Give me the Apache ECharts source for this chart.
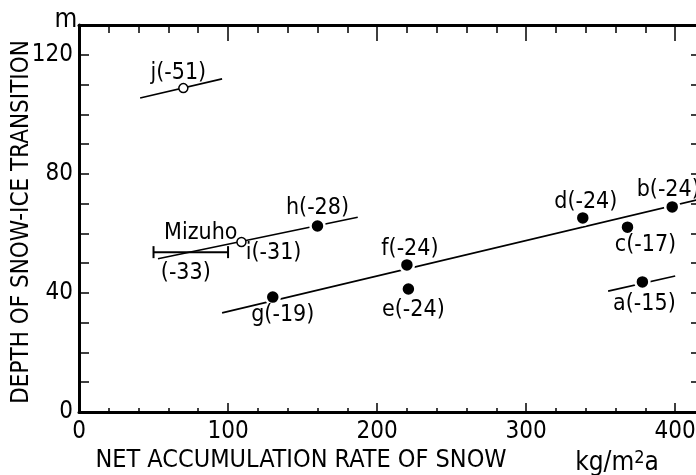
<!DOCTYPE html>
<html>
<head>
<meta charset="utf-8">
<script src="https://cdn.jsdelivr.net/npm/echarts@6/dist/echarts.min.js"></script>
<style>
html,body{margin:0;padding:0;background:#fff}
#chartBox{width:696px;height:475px}
</style>
</head>
<body>
<div id="chartBox"></div>
<script>
// stations: name (mean annual temp), accumulation rate kg/m2a, depth m
var filledNames = ['a(-15)', 'b(-24)', 'c(-17)', 'd(-24)', 'e(-24)', 'f(-24)', 'g(-19)', 'h(-28)'];
var filledX = [378, 398, 368, 338, 221, 220, 130, 160];
var filledY = [43.7, 68.9, 62.1, 65.2, 41.3, 49.4, 38.6, 62.5];

var openNames = ['j(-51)', 'i(-31)'];
var openX = [70, 109];
var openY = [108.8, 57.1];

// Mizuho range
var mizuhoX = [50, 100];
var mizuhoY = [53.7, 53.7];
var mizuhoText = ['Mizuho', '(-33)'];

// trend lines, x ends and y ends
var mainLineX = [96, 420];
var mainLineY = [33.3, 71.9];
var jLineX = [41, 96];
var jLineY = [105.5, 111.9];
var ihLineX = [53, 187];
var ihLineY = [51.5, 65.4];
var aLineX = [355, 400];
var aLineY = [40.6, 45.7];

var xTicks = [0, 100, 200, 300, 400];
var yTicks = [0, 40, 80, 120];

var FONT = "'Liberation Sans Narrow', 'DejaVu Sans Condensed', sans-serif";

function pairs(xs, ys) {
    return xs.map(function (x, i) { return [x, ys[i]]; });
}

var labelPlace = {
    'a(-15)': { position: 'bottom', offset: [2, -2] },
    'b(-24)': { position: 'top', offset: [-4, 7] },
    'c(-17)': { position: 'bottom', offset: [18, -6] },
    'd(-24)': { position: 'top', offset: [3, 8] },
    'e(-24)': { position: 'bottom', offset: [5, -3] },
    'f(-24)': { position: 'top', offset: [3, 8] },
    'g(-19)': { position: 'bottom', offset: [10, -6] },
    'h(-28)': { position: 'top', offset: [0, 6] },
    'j(-51)': { position: 'top', offset: [-5, 6] },
    'i(-31)': { position: 'right', offset: [-5, 11] },
    'Mizuho': { position: 'inside', offset: [10, -19] },
    '(-33)': { position: 'inside', offset: [-5, 21] }
};

function pointData(names, xs, ys) {
    return names.map(function (n, i) {
        return { name: n, value: [xs[i], ys[i]], label: labelPlace[n] };
    });
}

function segment(xs, ys) {
    return {
        type: 'line',
        data: pairs(xs, ys),
        showSymbol: false,
        silent: true,
        z: 1,
        lineStyle: { color: '#000', width: 1.6 }
    };
}

var lineWidth = 3;
function axisBase(extra) {
    var base = {
        type: 'value',
        splitLine: { show: false },
        axisLine: { show: true, onZero: false, lineStyle: { color: '#000', width: lineWidth } },
        axisTick: { show: true, inside: true, lineStyle: { color: '#000', width: 1.5 } },
        axisLabel: { color: '#000', fontFamily: FONT, fontSize: 24 }
    };
    return echarts.util.merge(base, extra, true);
}

var myChart = echarts.init(document.getElementById('chartBox'));
myChart.setOption({
    animation: false,
    backgroundColor: '#fff',
    grid: { left: 79, right: -9, top: 25, bottom: 63, outerBoundsMode: 'none', containLabel: false },
    xAxis: [
        axisBase({
            position: 'bottom', min: 0, max: 420, interval: 100,
            axisTick: { length: 9 },
            minorTick: { show: true, splitNumber: 5, length: 4, lineStyle: { color: '#000', width: 1.5 } },
            axisLabel: {
                margin: 8,
                formatter: function (v) { return xTicks.indexOf(v) >= 0 ? String(v) : ''; }
            }
        }),
        axisBase({
            position: 'top', min: 0, max: 420, interval: 100,
            axisTick: { length: 16 },
            minorTick: { show: true, splitNumber: 5, length: 8, lineStyle: { color: '#000', width: 1.5 } },
            axisLabel: { show: false }
        })
    ],
    yAxis: [
        axisBase({
            position: 'left', min: 0, max: 130, interval: 10,
            axisTick: { length: 10 },
            axisLabel: {
                margin: 6,
                formatter: function (v) { return yTicks.indexOf(v) >= 0 ? String(v) : ''; }
            }
        }),
        axisBase({
            position: 'right', min: 0, max: 130, interval: 10,
            axisTick: { length: 14 },
            axisLabel: { show: false }
        })
    ],
    graphic: [
        {
            type: 'text', x: 22, y: 222, rotation: Math.PI / 2,
            style: { text: 'DEPTH OF SNOW-ICE TRANSITION', font: '24px ' + FONT, fill: '#000', align: 'center', verticalAlign: 'middle' }
        },
        {
            type: 'text', x: 66, y: 20,
            style: { text: 'm', font: '26px ' + FONT, fill: '#000', align: 'center', verticalAlign: 'middle' }
        },
        {
            type: 'text', x: 301, y: 460,
            style: { text: 'NET ACCUMULATION RATE OF SNOW', font: '25px ' + FONT, fill: '#000', align: 'center', verticalAlign: 'middle' }
        },
        {
            type: 'text', x: 617, y: 463,
            style: {
                text: 'kg/m{sup|2}a', font: '26px ' + FONT, fill: '#000', align: 'center', verticalAlign: 'middle',
                rich: { sup: { fontSize: 18, fontFamily: FONT, padding: [0, 0, 10, 0] } }
            }
        }
    ],
    series: [
        segment(mainLineX, mainLineY),
        segment(jLineX, jLineY),
        segment(ihLineX, ihLineY),
        segment(aLineX, aLineY),
        {
            type: 'line',
            data: pairs(mizuhoX, mizuhoY),
            symbol: 'rect',
            symbolSize: [2, 12],
            showSymbol: true,
            silent: true,
            z: 1,
            itemStyle: { color: '#000' },
            lineStyle: { color: '#000', width: 2 }
        },
        {
            type: 'scatter',
            data: pointData(filledNames, filledX, filledY),
            symbolSize: 14,
            z: 3,
            itemStyle: { color: '#000', borderColor: '#fff', borderWidth: 2.5, opacity: 1 },
            label: {
                show: true, formatter: '{b}', color: '#000', fontFamily: FONT, fontSize: 23, distance: 4
            }
        },
        {
            type: 'scatter',
            data: pointData(openNames, openX, openY),
            symbolSize: 9,
            z: 3,
            itemStyle: { color: '#fff', borderColor: '#000', borderWidth: 1.5, opacity: 1 },
            label: {
                show: true, formatter: '{b}', color: '#000', fontFamily: FONT, fontSize: 23, distance: 4
            }
        },
        {
            type: 'scatter',
            data: pointData(mizuhoText, [75, 75], mizuhoY),
            symbolSize: 1,
            z: 3,
            itemStyle: { opacity: 1, color: 'rgba(0,0,0,0)' },
            label: {
                show: true, formatter: '{b}', color: '#000', fontFamily: FONT, fontSize: 23
            }
        }
    ]
});
</script>
</body>
</html>
